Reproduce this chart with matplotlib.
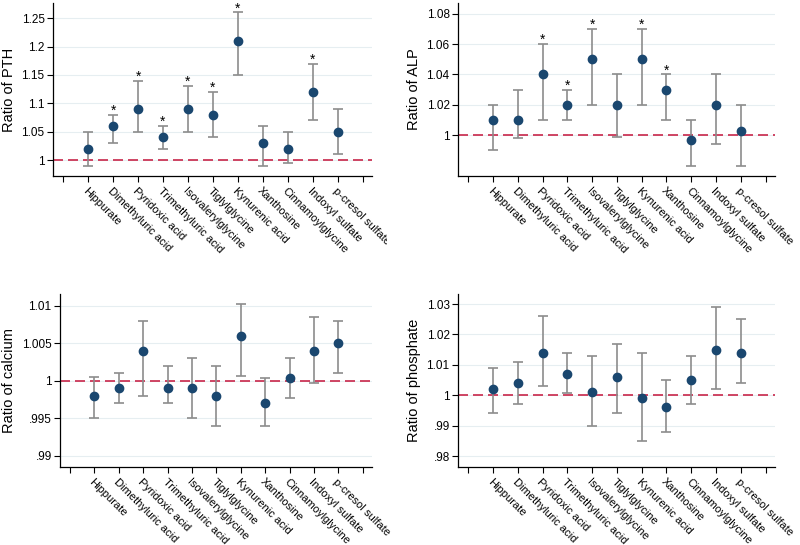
import matplotlib
matplotlib.use("Agg")
import matplotlib.pyplot as plt
from matplotlib.ticker import FixedLocator, FuncFormatter
from matplotlib.transforms import Bbox, TransformedBbox

plt.rcParams['font.family'] = ['Liberation Sans', 'DejaVu Sans']

metabolites = ["Hippurate", "Dimethyluric acid", "Pyridoxic acid", "Trimethyluric acid",
               "Isovalerylglycine", "Tiglylglycine", "Kynurenic acid", "Xanthosine",
               "Cinnamoylglycine", "Indoxyl sulfate", "p-cresol sulfate"]

# PTH
pth_est = [1.02, 1.06, 1.09, 1.04, 1.09, 1.08, 1.21, 1.03, 1.02, 1.12, 1.05]
pth_lo  = [0.99, 1.03, 1.05, 1.02, 1.05, 1.04, 1.15, 0.99, 0.995, 1.07, 1.01]
pth_hi  = [1.05, 1.08, 1.14, 1.06, 1.13, 1.12, 1.26, 1.06, 1.05, 1.17, 1.09]
pth_sig = [0, 1, 1, 1, 1, 1, 1, 0, 0, 1, 0]

# ALP
alp_est = [1.01, 1.01, 1.04, 1.02, 1.05, 1.02, 1.05, 1.03, 0.997, 1.02, 1.003]
alp_lo  = [0.99, 0.998, 1.01, 1.01, 1.02, 0.999, 1.02, 1.01, 0.98, 0.994, 0.98]
alp_hi  = [1.02, 1.03, 1.06, 1.03, 1.07, 1.04, 1.07, 1.04, 1.01, 1.04, 1.02]
alp_sig = [0, 0, 1, 1, 1, 0, 1, 1, 0, 0, 0]

# Calcium
ca_est = [0.998, 0.999, 1.004, 0.999, 0.999, 0.998, 1.006, 0.997, 1.0004, 1.004, 1.005]
ca_lo  = [0.995, 0.997, 0.998, 0.997, 0.995, 0.994, 1.0007, 0.994, 0.9977, 0.9997, 1.001]
ca_hi  = [1.0005, 1.001, 1.008, 1.002, 1.003, 1.002, 1.0103, 1.0004, 1.0031, 1.0085, 1.008]
ca_sig = [0] * 11

# Phosphate
ph_est = [1.002, 1.004, 1.014, 1.007, 1.001, 1.006, 0.999, 0.996, 1.005, 1.015, 1.014]
ph_lo  = [0.994, 0.997, 1.003, 1.0007, 0.990, 0.994, 0.985, 0.988, 0.997, 1.002, 1.004]
ph_hi  = [1.009, 1.011, 1.026, 1.014, 1.013, 1.017, 1.014, 1.005, 1.013, 1.029, 1.025]
ph_sig = [0] * 11

panels = [
    dict(est=pth_est, lo=pth_lo, hi=pth_hi, sig=pth_sig, ylabel="Ratio of PTH",
         yticks=[1, 1.05, 1.1, 1.15, 1.2, 1.25], ylim=(0.972, 1.2766),
         rect=(53, 3, 372, 176), clipx=387),
    dict(est=alp_est, lo=alp_lo, hi=alp_hi, sig=alp_sig, ylabel="Ratio of ALP",
         yticks=[1, 1.02, 1.04, 1.06, 1.08], ylim=(0.9732, 1.087),
         rect=(458, 3, 775, 176), clipx=800),
    dict(est=ca_est, lo=ca_lo, hi=ca_hi, sig=ca_sig, ylabel="Ratio of calcium",
         yticks=[0.99, 0.995, 1, 1.005, 1.01], ylim=(0.9885, 1.0116),
         rect=(60, 294, 372, 467), clipx=394),
    dict(est=ph_est, lo=ph_lo, hi=ph_hi, sig=ph_sig, ylabel="Ratio of phosphate",
         yticks=[0.98, 0.99, 1, 1.01, 1.02, 1.03], ylim=(0.9764, 1.0333),
         rect=(458, 294, 775, 467), clipx=800),
]

W, H = 800, 545
fig = plt.figure(figsize=(W / 100, H / 100), dpi=100)

def stata_fmt(v, pos):
    s = ('%.4f' % v).rstrip('0').rstrip('.')
    if s.startswith('0.'):
        s = s[1:]
    return s

navy = '#1a476f'
gray = '#8c8c8c'
red = '#c8264a'
grid = '#e6eef1'

for p in panels:
    x0, y0, x1, y1 = p['rect']
    ax = fig.add_axes([x0 / W, 1 - y1 / H, (x1 - x0) / W, (y1 - y0) / H])
    xs = list(range(1, len(metabolites) + 1))
    est, lo, hi = p['est'], p['lo'], p['hi']
    yerr = [[e - l for e, l in zip(est, lo)], [h - e for e, h in zip(est, hi)]]
    ax.axhline(1, color=red, lw=1.2, dashes=(6, 3), zorder=2)
    ax.errorbar(xs, est, yerr=yerr, fmt='none', ecolor=gray, elinewidth=1.2,
                capsize=3.6, capthick=1.2, zorder=3)
    ax.plot(xs, est, 'o', color=navy, ms=6, zorder=4)
    for x, h, s in zip(xs, hi, p['sig']):
        if s:
            ax.annotate('*', (x, h), xytext=(0, 0), textcoords='offset points',
                        ha='center', va='baseline', fontsize=10, annotation_clip=False)
    ax.set_xlim(-0.41, 12.38)
    ax.set_ylim(*p['ylim'])
    ax.xaxis.set_major_locator(FixedLocator(range(0, 13)))
    ax.set_xticklabels([''] + metabolites + [''], rotation=-45, ha='left', va='top',
                       rotation_mode='anchor', fontsize=8)
    ax.yaxis.set_major_locator(FixedLocator(p['yticks']))
    ax.yaxis.set_major_formatter(FuncFormatter(stata_fmt))
    ax.tick_params(axis='y', labelsize=8.5, length=4, width=0.8, pad=2)
    ax.tick_params(axis='x', length=4, width=0.8, pad=3)
    ax.grid(axis='y', color=grid, lw=0.8, zorder=0)
    ax.set_axisbelow(True)
    for s in ['top', 'right']:
        ax.spines[s].set_visible(False)
    for s in ['left', 'bottom']:
        ax.spines[s].set_linewidth(0.9)
    ax.set_ylabel(p['ylabel'], fontsize=10.5, labelpad=4)
    clip = TransformedBbox(Bbox([[0, 0], [p['clipx'] / W, 1]]), fig.transFigure)
    for tick in ax.xaxis.get_major_ticks():
        tick.label1.set_clip_on(True)
        tick.label1.set_clip_box(clip)

fig.savefig('out.png', dpi=100)
